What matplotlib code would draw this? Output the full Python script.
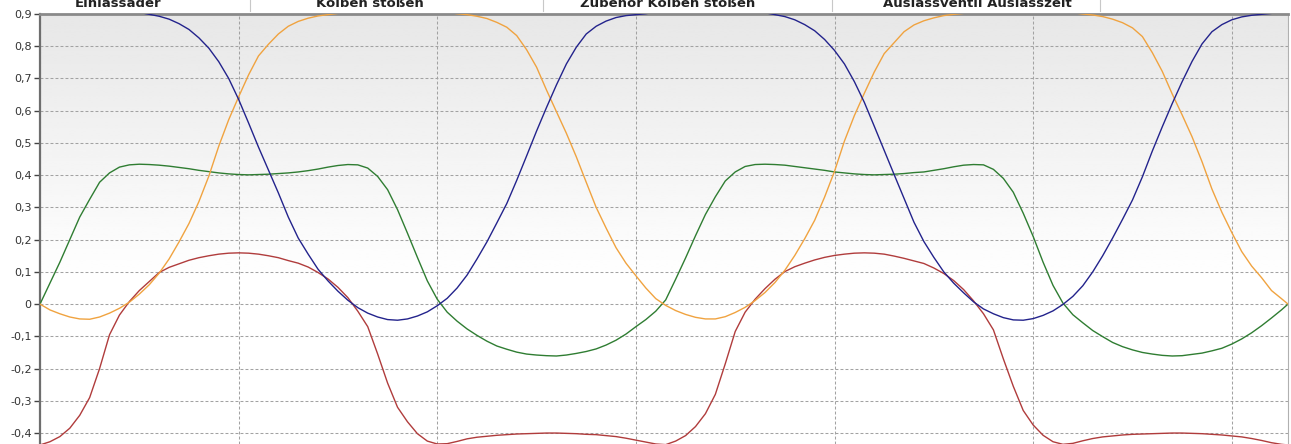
import numpy as np
import matplotlib
matplotlib.use("Agg")
import matplotlib.pyplot as plt
from matplotlib.ticker import FuncFormatter, MultipleLocator
from matplotlib.lines import Line2D

x = [round(0.05 * i, 2) for i in range(126)] + [6.283]

blue = [0.913, 0.918, 0.921, 0.923, 0.924, 0.924, 0.922, 0.920, 0.916, 0.911,
        0.905, 0.899, 0.893, 0.884, 0.870, 0.852, 0.826, 0.794, 0.752, 0.700,
        0.635, 0.562, 0.487, 0.416, 0.345, 0.270, 0.205, 0.155, 0.108, 0.072,
        0.040, 0.012, -0.011, -0.028, -0.040, -0.048, -0.050, -0.046, -0.037, -0.024,
        -0.005, 0.018, 0.050, 0.090, 0.140, 0.193, 0.252, 0.312, 0.384, 0.460,
        0.537, 0.610, 0.680, 0.745, 0.797, 0.838, 0.862, 0.878, 0.889, 0.895,
        0.898, 0.901, 0.906, 0.914, 0.918, 0.921, 0.923, 0.924, 0.924, 0.922,
        0.919, 0.915, 0.910, 0.904, 0.898, 0.892, 0.882, 0.867, 0.848, 0.821,
        0.787, 0.745, 0.690, 0.626, 0.552, 0.477, 0.402, 0.328, 0.254, 0.194,
        0.145, 0.100, 0.065, 0.035, 0.007, -0.015, -0.030, -0.042, -0.049, -0.050,
        -0.045, -0.035, -0.021, -0.001, 0.024, 0.057, 0.100, 0.150, 0.205, 0.263,
        0.323, 0.395, 0.475, 0.550, 0.622, 0.690, 0.753, 0.807, 0.845, 0.867,
        0.882, 0.891, 0.896, 0.899, 0.902, 0.907, 0.913]

orange = [0.0, -0.018, -0.030, -0.040, -0.046, -0.047, -0.040, -0.028, -0.013, 0.006,
          0.031, 0.060, 0.096, 0.140, 0.193, 0.250, 0.318, 0.397, 0.490, 0.572,
          0.643, 0.711, 0.770, 0.806, 0.838, 0.862, 0.877, 0.887, 0.894, 0.898,
          0.902, 0.906, 0.913, 0.918, 0.921, 0.923, 0.924, 0.922, 0.919, 0.915,
          0.910, 0.905, 0.901, 0.898, 0.893, 0.886, 0.874, 0.859, 0.833, 0.789,
          0.735, 0.664, 0.597, 0.530, 0.457, 0.378, 0.300, 0.236, 0.175, 0.127,
          0.088, 0.050, 0.017, -0.004, -0.020, -0.032, -0.041, -0.046, -0.046, -0.039,
          -0.026, -0.010, 0.011, 0.036, 0.067, 0.105, 0.151, 0.203, 0.260, 0.332,
          0.412, 0.506, 0.585, 0.654, 0.720, 0.777, 0.811, 0.845, 0.866, 0.879,
          0.888, 0.895, 0.899, 0.902, 0.907, 0.915, 0.919, 0.922, 0.923, 0.924,
          0.922, 0.919, 0.915, 0.910, 0.904, 0.900, 0.897, 0.892, 0.884, 0.873,
          0.857, 0.830, 0.780, 0.722, 0.652, 0.587, 0.519, 0.442, 0.357, 0.285,
          0.222, 0.163, 0.118, 0.082, 0.042, 0.017, 0.0]

green = [0.0, 0.065, 0.130, 0.200, 0.270, 0.325, 0.378, 0.407, 0.425, 0.432,
         0.434, 0.433, 0.431, 0.428, 0.424, 0.420, 0.415, 0.411, 0.407, 0.404,
         0.402, 0.401, 0.402, 0.403, 0.405, 0.407, 0.410, 0.414, 0.419, 0.425,
         0.430, 0.433, 0.432, 0.422, 0.396, 0.355, 0.293, 0.220, 0.145, 0.072,
         0.015, -0.025, -0.053, -0.077, -0.097, -0.115, -0.130, -0.140, -0.149, -0.155,
         -0.158, -0.160, -0.161, -0.158, -0.153, -0.147, -0.139, -0.127, -0.112, -0.093,
         -0.070, -0.048, -0.022, 0.013, 0.077, 0.143, 0.212, 0.278, 0.333, 0.382,
         0.410, 0.427, 0.433, 0.434, 0.433, 0.431, 0.427, 0.423, 0.419, 0.415,
         0.410, 0.407, 0.404, 0.402, 0.401, 0.402, 0.403, 0.405, 0.408, 0.410,
         0.415, 0.420, 0.426, 0.431, 0.433, 0.432, 0.418, 0.390, 0.347, 0.282,
         0.210, 0.130, 0.058, 0.003, -0.033, -0.058, -0.082, -0.101, -0.119, -0.132,
         -0.142, -0.150, -0.155, -0.159, -0.161, -0.160, -0.156, -0.152, -0.145, -0.137,
         -0.124, -0.108, -0.089, -0.067, -0.043, -0.018, 0.0]

red = [-0.437, -0.427, -0.411, -0.385, -0.345, -0.290, -0.200, -0.095, -0.034, 0.008,
       0.042, 0.070, 0.098, 0.114, 0.125, 0.136, 0.144, 0.150, 0.155, 0.158,
       0.159, 0.158, 0.155, 0.150, 0.144, 0.135, 0.127, 0.115, 0.098, 0.078,
       0.052, 0.020, -0.022, -0.070, -0.155, -0.245, -0.320, -0.365, -0.402, -0.425,
       -0.434, -0.433, -0.426, -0.418, -0.413, -0.410, -0.407, -0.405, -0.403, -0.402,
       -0.401, -0.400, -0.400, -0.401, -0.402, -0.404, -0.405, -0.408, -0.411, -0.416,
       -0.422, -0.428, -0.434, -0.436, -0.425, -0.408, -0.380, -0.340, -0.280, -0.185,
       -0.085, -0.025, 0.015, 0.048, 0.077, 0.101, 0.116, 0.127, 0.137, 0.145,
       0.151, 0.155, 0.158, 0.159, 0.158, 0.155, 0.149, 0.142, 0.134, 0.126,
       0.112, 0.095, 0.073, 0.045, 0.010, -0.030, -0.080, -0.170, -0.255, -0.330,
       -0.375, -0.407, -0.427, -0.435, -0.432, -0.424, -0.417, -0.412, -0.409, -0.406,
       -0.404, -0.403, -0.402, -0.401, -0.400, -0.400, -0.401, -0.402, -0.404, -0.406,
       -0.409, -0.412, -0.417, -0.423, -0.430, -0.435, -0.437]

header_labels = ["Einlassader", "Kolben stoßen", "Zubehör Kolben stoßen", "Auslassventil Auslasszeit"]
header_centers_px = [118, 370, 668, 977]

series = [
    (green, "#2f7d32"),
    (red, "#b03c3c"),
    (orange, "#f0a340"),
    (blue, "#23238c"),
]

# ---- figure ----
W, H = 1291, 444
fig = plt.figure(figsize=(W / 100, H / 100), dpi=100)
fig.patch.set_facecolor("white")

left_px, right_px, top_px, bottom_px = 40, 1288, 14, 444
ax = fig.add_axes([left_px / W, (H - bottom_px) / H,
                   (right_px - left_px) / W, (bottom_px - top_px) / H])

ax.set_xlim(0, 6.283)
ax.set_ylim(-0.434, 0.9)

# background gradient (light gray at top fading to white)
grad = np.ones((200, 2))
n = 125
grad[:n, :] = np.linspace(0.905, 1.0, n)[:, None]
ax.imshow(grad, extent=[0, 1, 0, 1], transform=ax.transAxes, aspect="auto",
          cmap="gray", vmin=0, vmax=1, zorder=0, interpolation="bilinear")

for vals, col in series:
    ax.plot(x, vals, color=col, lw=1.0, zorder=3, solid_joinstyle="round")

# grid
ax.yaxis.set_major_locator(MultipleLocator(0.1))
ax.xaxis.set_major_locator(MultipleLocator(1.0))
ax.grid(True, which="major", color="#a2a2a2", linestyle=(0, (2.8, 2.0)), lw=0.75, zorder=1)
ax.set_axisbelow(True)


def fmt(v, pos):
    v = round(v, 1)
    if abs(v) < 1e-9:
        return "0"
    return ("%.1f" % v).replace(".", ",")


ax.yaxis.set_major_formatter(FuncFormatter(fmt))
ax.tick_params(axis="y", direction="out", length=4, width=1.0, color="#444444",
               labelsize=8, labelcolor="#333333", pad=2)
ax.tick_params(axis="x", length=0, labelbottom=False)

ax.spines["left"].set_color("#6e6e6e")
ax.spines["left"].set_linewidth(1.6)
ax.spines["top"].set_color("#8a8a8a")
ax.spines["top"].set_linewidth(2.0)
ax.spines["right"].set_color("#b0b0b0")
ax.spines["right"].set_linewidth(0.8)
ax.spines["bottom"].set_visible(False)

# cropped header band at the very top (only the lower part of the labels is visible)
for lab, cx in zip(header_labels, header_centers_px):
    fig.text(cx / W, 1 - 7 / H, lab, ha="center", va="baseline", fontsize=9.5,
             fontweight="bold", color="#222222")
for sx in [250, 543, 832, 1100]:
    fig.add_artist(Line2D([sx / W, sx / W], [1 - 11 / H, 1.0], transform=fig.transFigure,
                          color="#c8c8c8", lw=0.8))

fig.savefig("out.png", dpi=100, facecolor=fig.get_facecolor())
